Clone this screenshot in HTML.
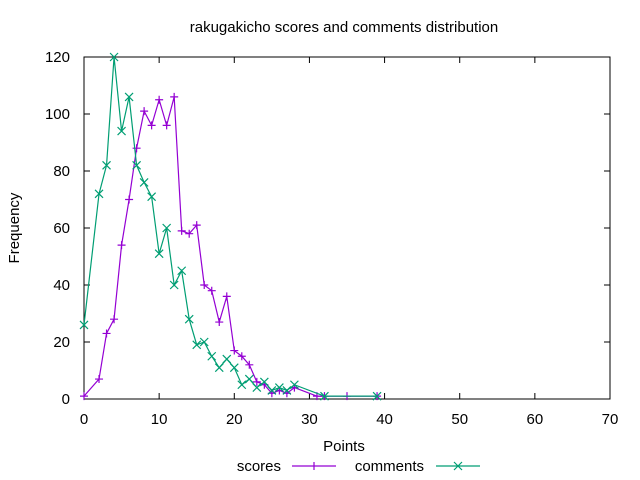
<!DOCTYPE html>
<html><head><meta charset="utf-8"><style>
body{margin:0;background:#fff}
svg{display:block;font-family:"Liberation Sans",sans-serif;font-size:15px}
</style></head><body>
<svg id="c" width="640" height="480">
<text x="344" y="32" text-anchor="middle">rakugakicho scores and comments distribution</text>
<text x="344" y="451" text-anchor="middle">Points</text>
<text transform="translate(19,228) rotate(-90)" text-anchor="middle">Frequency</text>
<g id="axes"></g><g id="series"></g>
<text x="281" y="471" text-anchor="end">scores</text>
<text x="424" y="471" text-anchor="end">comments</text>
</svg>
<script>
const xTicks=[0,10,20,30,40,50,60,70];
const yTicks=[0,20,40,60,80,100,120];
const scoreX=[0,2,3,4,5,6,7,8,9,10,11,12,13,14,15,16,17,18,19,20,21,22,23,24,25,26,27,28,31,32,35,39];
const scoreY=[1,7,23,28,54,70,88,101,96,105,96,106,59,58,61,40,38,27,36,17,15,12,6,5,2,3,2,4,1,1,1,1];
const commentX=[0,2,3,4,5,6,7,8,9,10,11,12,13,14,15,16,17,18,19,20,21,22,23,24,25,26,27,28,32,39];
const commentY=[26,72,82,120,94,106,82,76,71,51,60,40,45,28,19,20,15,11,14,11,5,7,4,6,3,4,3,5,1,1];
const L=84,R=610,T=57,B=399;
const sx=v=>L+(R-L)*v/70, sy=v=>B-(B-T)*v/120;
const NS="http://www.w3.org/2000/svg";
const ax=document.getElementById('axes'), se=document.getElementById('series');
function mk(tag,attrs,parent){const e=document.createElementNS(NS,tag);for(const k in attrs)e.setAttribute(k,attrs[k]);parent.appendChild(e);return e;}
const frame=mk('rect',{x:L,y:T,width:R-L,height:B-T,fill:'none',stroke:'#000','stroke-width':1},ax);


xTicks.forEach(v=>{const x=sx(v);
 mk('path',{d:`M${x} ${B}v-6M${x} ${T}v6`,stroke:'#000'},ax);
 const t=mk('text',{x:x,y:B+25,'text-anchor':'middle'},ax);t.textContent=v;
 
 });
yTicks.forEach(v=>{const y=sy(v);
 mk('path',{d:`M${L} ${y}h6M${R} ${y}h-6`,stroke:'#000'},ax);
 const t=mk('text',{x:L-14,y:y+5,'text-anchor':'end'},ax);t.textContent=v;
 
 });
function series(xs,ys,color,type,name,ly,lx1,lx2){
 const g=mk('g',{},se);
 
 
 const p=mk('polyline',{points:xs.map((x,i)=>sx(x)+','+sy(ys[i])).join(' '),fill:'none',stroke:color,'stroke-width':1.2},g);
 
 
 const mark=(x,y)=>type==='plus'?`M${x-4} ${y}h8M${x} ${y-4}v8`:`M${x-4} ${y-4}l8 8M${x-4} ${y+4}l8 -8`;
 xs.forEach((x,i)=>{const m=mk('path',{d:mark(sx(x),sy(ys[i])),stroke:color,'stroke-width':1.2},g);
  
  });
 const lg=mk('path',{d:`M${lx1} ${ly}H${lx2}`+mark((lx1+lx2)/2,ly),stroke:color,'stroke-width':1.2},se);
 
 
}
series(scoreX,scoreY,'#9400d3','plus','scores',466,292,336);
series(commentX,commentY,'#009e73','cross','comments',466,436,480);
</script>
</body></html>
